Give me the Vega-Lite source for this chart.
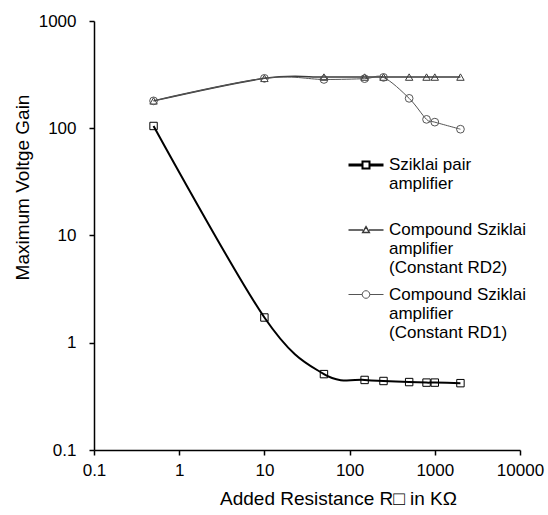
{
  "$schema": "https://vega.github.io/schema/vega-lite/v6.json",
  "width": 426,
  "height": 429,
  "autosize": {"type": "none"},
  "padding": {"left": 94, "top": 21, "right": 28, "bottom": 65},
  "background": "white",
  "config": {
    "view": {"stroke": null},
    "font": "Liberation Sans",
    "axis": {
      "grid": false,
      "domainColor": "black",
      "domainWidth": 1.5,
      "tickColor": "black",
      "tickWidth": 1.5,
      "tickSize": 5,
      "labelFont": "Liberation Sans",
      "labelFontSize": 17,
      "labelColor": "black",
      "titleFont": "Liberation Sans",
      "titleFontSize": 19,
      "titleFontWeight": "normal",
      "titleColor": "black"
    }
  },
  "data": {
    "values": [
      {"series": "Sziklai pair amplifier", "r": 0.5, "gain": 105},
      {"series": "Sziklai pair amplifier", "r": 10, "gain": 1.72},
      {"series": "Sziklai pair amplifier", "r": 50, "gain": 0.51},
      {"series": "Sziklai pair amplifier", "r": 150, "gain": 0.45},
      {"series": "Sziklai pair amplifier", "r": 250, "gain": 0.44},
      {"series": "Sziklai pair amplifier", "r": 500, "gain": 0.43},
      {"series": "Sziklai pair amplifier", "r": 800, "gain": 0.425},
      {"series": "Sziklai pair amplifier", "r": 1000, "gain": 0.425},
      {"series": "Sziklai pair amplifier", "r": 2000, "gain": 0.42},
      {"series": "Compound Sziklai amplifier (Constant RD2)", "r": 0.5, "gain": 180},
      {"series": "Compound Sziklai amplifier (Constant RD2)", "r": 10, "gain": 292},
      {"series": "Compound Sziklai amplifier (Constant RD2)", "r": 50, "gain": 300},
      {"series": "Compound Sziklai amplifier (Constant RD2)", "r": 150, "gain": 300},
      {"series": "Compound Sziklai amplifier (Constant RD2)", "r": 250, "gain": 300},
      {"series": "Compound Sziklai amplifier (Constant RD2)", "r": 500, "gain": 300},
      {"series": "Compound Sziklai amplifier (Constant RD2)", "r": 800, "gain": 300},
      {"series": "Compound Sziklai amplifier (Constant RD2)", "r": 1000, "gain": 300},
      {"series": "Compound Sziklai amplifier (Constant RD2)", "r": 2000, "gain": 300},
      {"series": "Compound Sziklai amplifier (Constant RD1)", "r": 0.5, "gain": 180},
      {"series": "Compound Sziklai amplifier (Constant RD1)", "r": 10, "gain": 292},
      {"series": "Compound Sziklai amplifier (Constant RD1)", "r": 50, "gain": 285},
      {"series": "Compound Sziklai amplifier (Constant RD1)", "r": 150, "gain": 290},
      {"series": "Compound Sziklai amplifier (Constant RD1)", "r": 250, "gain": 298},
      {"series": "Compound Sziklai amplifier (Constant RD1)", "r": 500, "gain": 190},
      {"series": "Compound Sziklai amplifier (Constant RD1)", "r": 800, "gain": 121},
      {"series": "Compound Sziklai amplifier (Constant RD1)", "r": 1000, "gain": 114},
      {"series": "Compound Sziklai amplifier (Constant RD1)", "r": 2000, "gain": 98}
    ]
  },
  "encoding": {
    "x": {
      "field": "r", "type": "quantitative",
      "scale": {"type": "log", "domain": [0.1, 10000], "nice": false},
      "axis": {"values": [0.1, 1, 10, 100, 1000, 10000], "format": "~g", "labelPadding": 7, "titlePadding": 11, "titleX": 244, "title": "Added Resistance R\u25a1 in K\u03a9", "labelFlush": false}
    },
    "y": {
      "field": "gain", "type": "quantitative",
      "scale": {"type": "log", "domain": [0.1, 1000], "nice": false},
      "axis": {"values": [0.1, 1, 10, 100, 1000], "format": "~g", "labelPadding": 13, "titlePadding": 6, "titleY": 166, "title": "Maximum Voltge Gain", "labelFlush": false}
    },
    "color": {
      "field": "series", "type": "nominal",
      "scale": {
        "domain": ["Sziklai pair amplifier", "Compound Sziklai amplifier (Constant RD2)", "Compound Sziklai amplifier (Constant RD1)"],
        "range": ["#000000", "#3a3a3a", "#555555"]
      },
      "legend": {
        "orient": "none",
        "legendX": 261,
        "legendY": 133,
        "title": null,
        "labelFont": "Liberation Sans",
        "labelFontSize": 17,
        "labelColor": "black",
        "labelLimit": 300,
        "labelOffset": 12,
        "labelBaseline": "middle",
        "symbolSize": 400,
        "rowPadding": 8,
        "labelExpr": "split(replace(replace(datum.label, ' amplifier', '|amplifier'), ' (', '|(') + (datum.label == 'Sziklai pair amplifier' ? '| ' : ''), '|')",
        "encode": {
          "symbols": {
            "update": {
              "shape": {"signal": "datum.value == 'Sziklai pair amplifier' ? 'M-1.75,-0.05H-0.35M-1.75,0.05H-0.35M0.35,-0.05H1.75M0.35,0.05H1.75M-0.35,-0.35H0.35V0.35H-0.35Z' : (indexof(datum.value, 'RD2') >= 0 ? 'M-1.75,0H-0.3M0.3,0H1.75M0,-0.33L0.33,0.25L-0.33,0.25Z' : 'M-1.75,0H-0.38M0.38,0H1.75M-0.38,0A0.38,0.38,0,1,1,0.38,0A0.38,0.38,0,1,1,-0.38,0Z')"},
              "fill": {"value": "transparent"},
              "strokeWidth": {"value": 1}
            }
          },
          "labels": {
            "update": {
              "lineHeight": {"value": 19}
            }
          }
        }
      }
    }
  },
  "layer": [
    {
      "mark": {"type": "line", "interpolate": "cardinal"},
      "encoding": {
        "strokeWidth": {
          "field": "series", "type": "nominal",
          "scale": {"domain": ["Sziklai pair amplifier", "Compound Sziklai amplifier (Constant RD2)", "Compound Sziklai amplifier (Constant RD1)"], "range": [2, 1, 1]},
          "legend": null
        }
      }
    },
    {
      "transform": [{"filter": "datum.series == 'Sziklai pair amplifier'"}],
      "mark": {"type": "point", "shape": "square", "filled": false, "strokeWidth": 1, "size": 55, "opacity": 1}
    },
    {
      "transform": [{"filter": "indexof(datum.series, 'RD2') >= 0"}],
      "mark": {"type": "point", "shape": "triangle-up", "filled": false, "strokeWidth": 1, "size": 55, "opacity": 1}
    },
    {
      "transform": [{"filter": "indexof(datum.series, 'RD1') >= 0"}],
      "mark": {"type": "point", "shape": "circle", "filled": false, "strokeWidth": 1, "size": 60, "opacity": 1}
    }
  ]
}
